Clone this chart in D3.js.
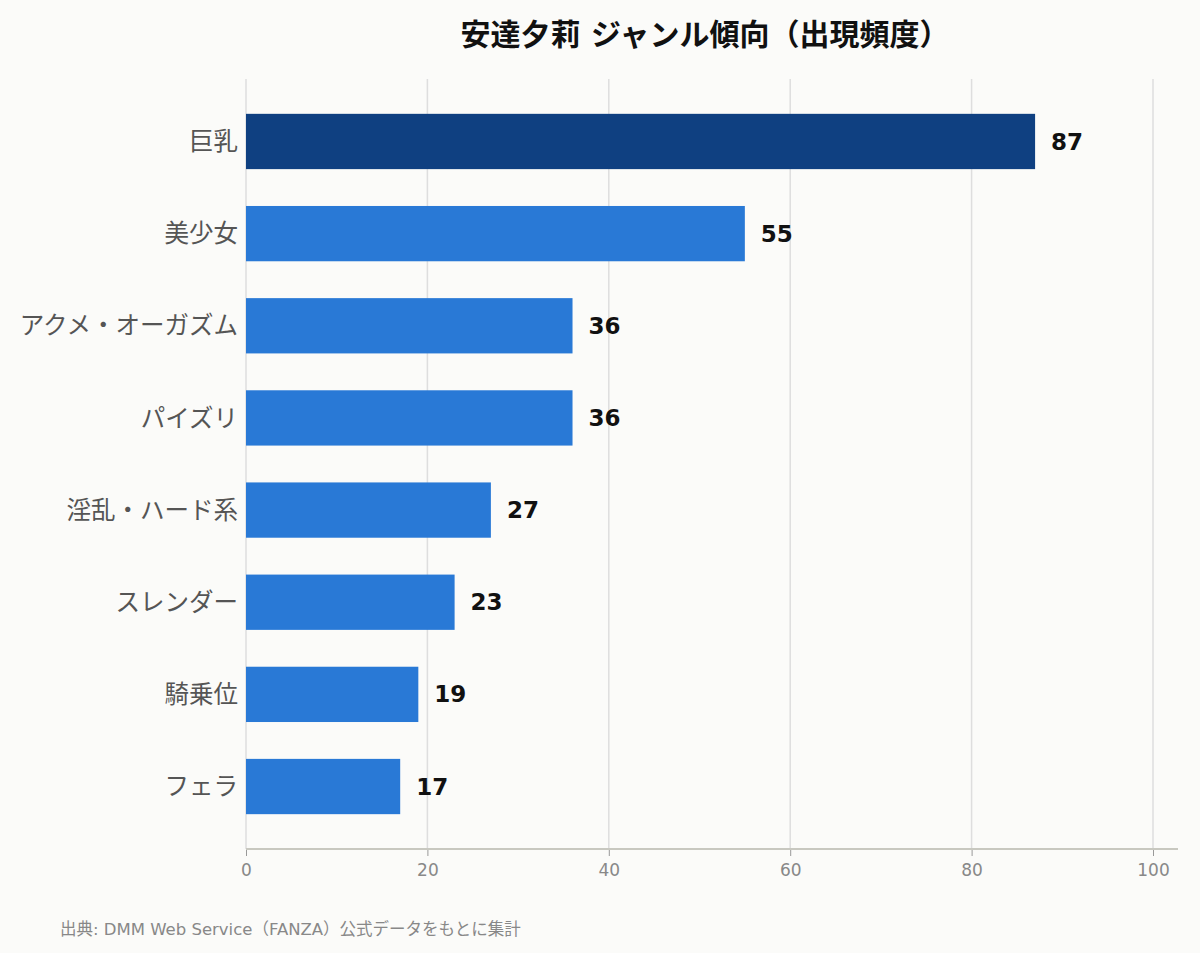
<!DOCTYPE html>
<html>
<head>
<meta charset="utf-8">
<script src="https://cdn.jsdelivr.net/npm/d3@7"></script>
<style>
  body { margin: 0; background: #fbfbf9; }
  text { font-family: "DejaVu Sans", "Noto Sans CJK JP", sans-serif; }
</style>
</head>
<body>
<script>
var categories = ["巨乳", "美少女", "アクメ・オーガズム", "パイズリ", "淫乱・ハード系", "スレンダー", "騎乗位", "フェラ"];
var counts = [87, 55, 36, 36, 27, 23, 19, 17];
var ticks = [0, 20, 40, 60, 80, 100];

var w = 1200, h = 953;
var plotLeft = 246, plotRight = 1153, plotTop = 79, plotBottom = 849;

var svg = d3.select("body").append("svg")
  .attr("width", w)
  .attr("height", h);

svg.append("rect").attr("width", w).attr("height", h).attr("fill", "#fbfbf9");

var x = d3.scaleLinear().domain([0, 100]).range([plotLeft, plotRight]);
var y = d3.scaleBand().domain(categories).range([plotTop, plotBottom])
  .paddingInner(0.4).paddingOuter(0.378);

// grid
svg.selectAll("line.grid")
  .data(ticks)
  .enter()
  .append("line")
  .attr("class", "grid")
  .attr("x1", function(d){ return x(d); })
  .attr("x2", function(d){ return x(d); })
  .attr("y1", plotTop)
  .attr("y2", plotBottom)
  .style("stroke", "#dedede")
  .style("stroke-width", 1.5);

// bars
svg.selectAll("rect.bar")
  .data(counts)
  .enter()
  .append("rect")
  .attr("class", "bar")
  .attr("x", x(0))
  .attr("y", function(d, i){ return y(categories[i]); })
  .attr("width", function(d){ return x(d) - x(0); })
  .attr("height", y.bandwidth())
  .style("fill", function(d, i){ return i == 0 ? "#0f4081" : "#2979d6"; });

// value labels
svg.selectAll("text.val")
  .data(counts)
  .enter()
  .append("text")
  .attr("class", "val")
  .attr("x", function(d){ return x(d) + 16; })
  .attr("y", function(d, i){ return y(categories[i]) + y.bandwidth() / 2; })
  .attr("dy", "0.35em")
  .style("font-size", "23px")
  .style("font-weight", "bold")
  .style("fill", "#111")
  .text(function(d){ return d; });

// category labels
svg.selectAll("text.cat")
  .data(categories)
  .enter()
  .append("text")
  .attr("class", "cat")
  .attr("x", plotLeft - 8)
  .attr("y", function(d){ return y(d) + y.bandwidth() / 2; })
  .attr("dy", "0.35em")
  .attr("text-anchor", "end")
  .style("font-size", "24.5px")
  .style("fill", "#555")
  .text(function(d){ return d; });

// x axis
var axis = svg.append("g")
  .attr("transform", "translate(0," + plotBottom + ")")
  .call(d3.axisBottom(x).tickValues(ticks).tickSize(7).tickPadding(8));
axis.select(".domain").remove();
axis.selectAll(".tick line").style("stroke", "#999");
axis.selectAll(".tick text")
  .style("font-size", "17px")
  .style("fill", "#888")
  .style("font-family", "'DejaVu Sans', 'Noto Sans CJK JP', sans-serif");
svg.append("line")
  .attr("x1", plotLeft).attr("x2", 1178)
  .attr("y1", plotBottom).attr("y2", plotBottom)
  .style("stroke", "#c8c8c0")
  .style("stroke-width", 2);

// title
svg.append("text")
  .attr("x", 705)
  .attr("y", 45)
  .attr("text-anchor", "middle")
  .style("font-size", "30px")
  .style("font-weight", "bold")
  .style("fill", "#111")
  .text("安達夕莉 ジャンル傾向（出現頻度）");

// source
svg.append("text")
  .attr("x", 60)
  .attr("y", 935)
  .style("font-size", "16.5px")
  .style("fill", "#888")
  .text("出典: DMM Web Service（FANZA）公式データをもとに集計");
</script>
</body>
</html>
